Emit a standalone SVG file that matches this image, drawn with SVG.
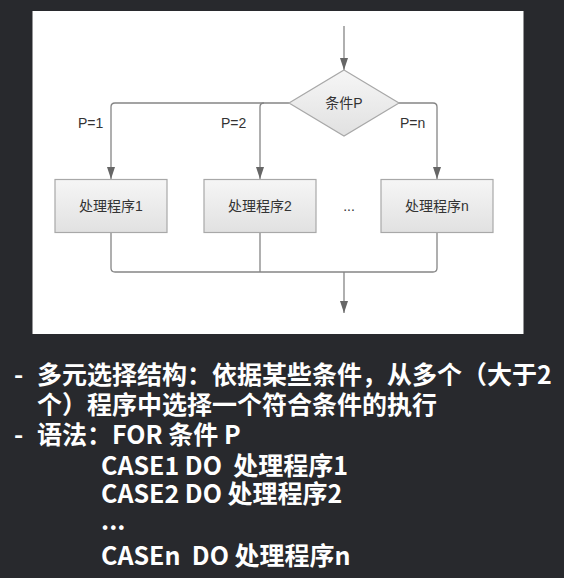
<svg xmlns="http://www.w3.org/2000/svg" width="564" height="578" viewBox="0 0 564 578">
<style>
.ln{fill:none;stroke:#858585;stroke-width:1.3}
.box{fill:url(#g);stroke:#a8a8a8;stroke-width:1.2}
.lbl{font-family:"Liberation Sans","Noto Sans CJK SC",sans-serif;font-size:14px;fill:#333}
.nt{font-family:"Liberation Sans","Noto Sans CJK SC",sans-serif;font-size:14px;fill:#333;text-anchor:middle}
.body{font-family:"Noto Sans CJK SC","Noto Sans",sans-serif;font-weight:bold;font-size:25px;fill:#fff;white-space:pre}
</style>
<defs>
<linearGradient id="g" x1="0" y1="0" x2="0" y2="1">
<stop offset="0" stop-color="#f6f6f6"/>
<stop offset="1" stop-color="#e1e1e1"/>
</linearGradient>
<marker id="ah" viewBox="0 0 12 8" refX="12" refY="4" markerWidth="12" markerHeight="8" markerUnits="userSpaceOnUse" orient="auto">
<path d="M0,0 L12,4 L0,8 Z" fill="#666"/>
</marker>
</defs>
<rect x="0" y="0" width="564" height="578" fill="#28292d"/>
<rect x="32.5" y="11" width="491" height="323" fill="#fff"/>
<g id="connectors">
<path class="ln" d="M344,26 V70" marker-end="url(#ah)"/>
<path class="ln" d="M289,103 H115 Q111,103 111,107 V179" marker-end="url(#ah)"/>
<path class="ln" d="M264,103 Q260,103 260,107 V179" marker-end="url(#ah)"/>
<path class="ln" d="M398,103 H433 Q437,103 437,107 V179" marker-end="url(#ah)"/>
<path class="ln" d="M111,232 V268 Q111,272 115,272 H433 Q437,272 437,268 V232"/>
<path class="ln" d="M260,232 V272"/>
<path class="ln" d="M344,272 V313" marker-end="url(#ah)"/>
<text class="lbl" x="78" y="128">P=1</text>
<text class="lbl" x="221" y="128">P=2</text>
<text class="lbl" x="400" y="128">P=n</text>
</g>
<g id="cond">
<polygon class="box" points="344,70 399,103 344,136 289,103"/>
<text class="nt" x="344" y="108">条件P</text>
</g>
<g id="proc1">
<rect class="box" x="55" y="179.5" width="112" height="53"/>
<text class="nt" x="111" y="211">处理程序1</text>
</g>
<g id="proc2">
<rect class="box" x="204" y="179.5" width="112" height="53"/>
<text class="nt" x="260" y="211">处理程序2</text>
</g>
<g id="dots">
<text class="nt" x="349" y="211">...</text>
</g>
<g id="procn">
<rect class="box" x="381" y="179.5" width="112" height="53"/>
<text class="nt" x="437" y="211">处理程序n</text>
</g>
<g id="text">
<text class="body" x="14" y="384">-</text>
<text class="body" x="37" y="384">多元选择结构：依据某些条件，从多个（大于2</text>
<text class="body" x="37" y="414">个）程序中选择一个符合条件的执行</text>
<text class="body" x="14" y="444">-</text>
<text class="body" x="37" y="444">语法：FOR 条件 P</text>
<text class="body" x="101" y="475">CASE1 DO  处理程序1</text>
<text class="body" x="101" y="503">CASE2 DO 处理程序2</text>
<text class="body" x="101" y="530">...</text>
<text class="body" x="101" y="565">CASEn  DO 处理程序n</text>
</g>
</svg>
